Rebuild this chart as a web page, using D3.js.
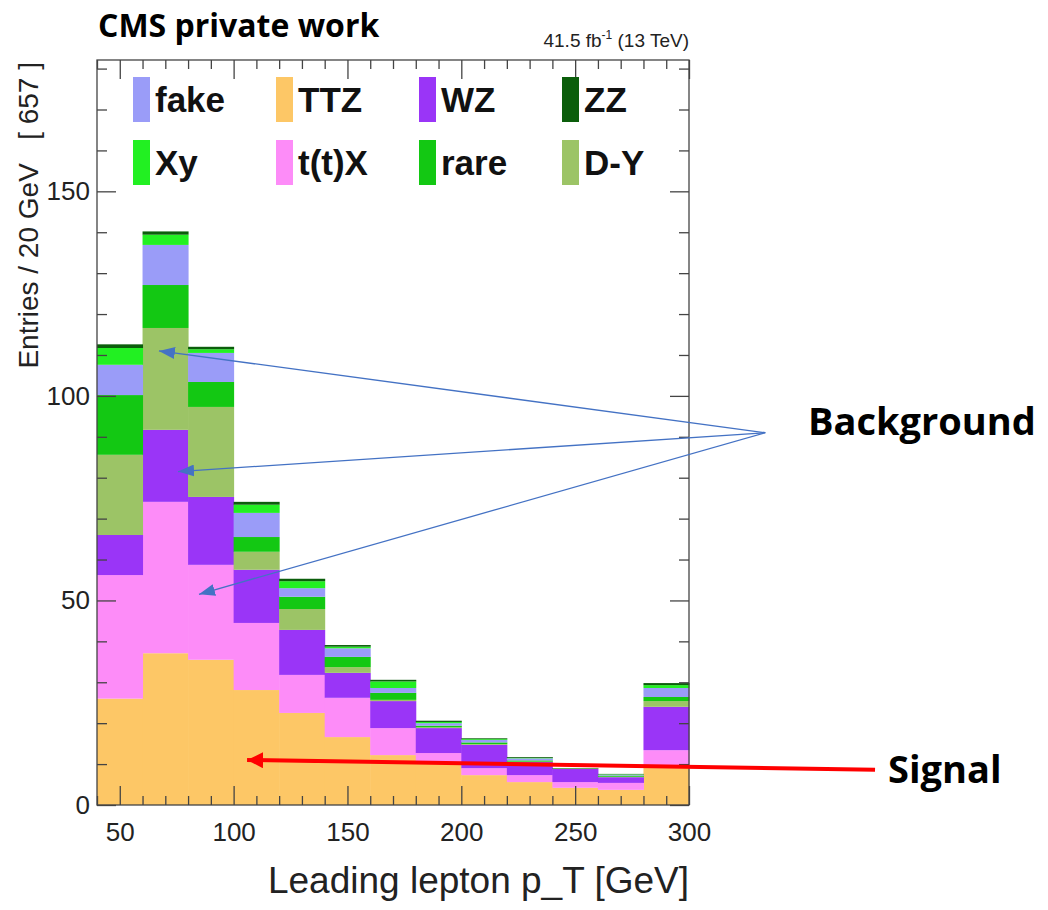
<!DOCTYPE html>
<html>
<head>
<meta charset="utf-8">
<script src="https://cdn.jsdelivr.net/npm/d3@7"></script>
<style>
  body { margin: 0; background: #fff; }
  text { white-space: pre; }
</style>
</head>
<body>
<div class="chart"></div>
<script>
// set the dimensions and margins of the graph
const w = 1048
const h = 910
const plot = {left: 97, right: 689, top: 60, bottom: 805}

// bin lower edges (GeV), each bin is 20 GeV wide
const binLow = [40, 60, 80, 100, 120, 140, 160, 180, 200, 220, 240, 260, 280]
const binWidth = 20

// stacked contributions per bin, bottom to top
const ttz  = [26.0, 37.1, 35.5, 28.1, 22.5, 16.6, 12.2, 10.3, 7.3, 5.6, 4.2, 3.7, 9.3]
const ttx  = [30.2, 37.0, 23.2, 16.4, 9.3, 9.6, 6.6, 2.4, 1.7, 1.7, 1.4, 1.7, 4.1]
const wz   = [9.8, 17.6, 16.6, 13.0, 11.0, 6.1, 6.6, 6.1, 5.7, 3.2, 3.2, 1.4, 10.6]
const dy   = [19.6, 24.9, 22.0, 4.4, 5.1, 1.4, 0.3, 0.2, 0.2, 0.1, 0.0, 0.1, 1.4]
const rare = [14.6, 10.5, 6.1, 3.6, 3.0, 2.5, 1.7, 0.4, 0.4, 0.3, 0.1, 0.3, 1.0]
const fake = [7.4, 9.8, 7.1, 5.9, 2.1, 2.1, 1.2, 0.6, 0.6, 0.5, 0.0, 0.2, 2.2]
const xy   = [4.1, 2.5, 0.9, 2.0, 1.7, 0.4, 1.6, 0.3, 0.2, 0.1, 0.0, 0.1, 0.7]
const zz   = [0.9, 0.8, 0.6, 0.7, 0.6, 0.4, 0.4, 0.3, 0.2, 0.2, 0.1, 0.1, 0.5]

// legend entries (row by row)
const legendKeys = ["fake", "ttz", "wz", "zz", "xy", "ttx", "rare", "dy"]
const legendNames = {fake: "fake", ttz: "TTZ", wz: "WZ", zz: "ZZ", xy: "Xy", ttx: "t(t)X", rare: "rare", dy: "D-Y"}

// axis ticks
const xMajor = [50, 100, 150, 200, 250, 300]
const yMajor = [0, 50, 100, 150]

// annotation arrows, in data units: [fromX, fromY, toX, toY]
const bgArrows = [[333.5, 91, 67.2, 111], [333.5, 91, 75.6, 81.5], [333.5, 91, 84.8, 51.5]]
const sigArrow = [381.7, 8.6, 105.9, 11]

const colors = {
  ttz: "#fdc766", ttx: "#fd8cf8", wz: "#9a35f7", dy: "#9cc466",
  rare: "#13c813", fake: "#9a9cf8", xy: "#22f022", zz: "#0b5e0b"
}
const stackKeys = ["ttz", "ttx", "wz", "dy", "rare", "fake", "xy", "zz"]

const table = binLow.map((lo, i) => ({
  lo: lo, ttz: ttz[i], ttx: ttx[i], wz: wz[i], dy: dy[i],
  rare: rare[i], fake: fake[i], xy: xy[i], zz: zz[i]
}))

const svg = d3.select(".chart")
  .append("svg")
    .attr("width", w)
    .attr("height", h)

const x = d3.scaleLinear().domain([40, 300]).range([plot.left, plot.right])
const y = d3.scaleLinear().domain([0, 182.1]).range([plot.bottom, plot.top])

// stacked histogram
const series = d3.stack().keys(stackKeys)(table)
svg.append("g")
  .selectAll("g")
  .data(series)
  .join("g")
    .attr("fill", d => colors[d.key])
  .selectAll("rect")
  .data(d => d)
  .join("rect")
    .attr("x", d => x(d.data.lo))
    .attr("width", d => x(d.data.lo + binWidth) - x(d.data.lo) + 0.5)
    .attr("y", d => y(d[1]))
    .attr("height", d => Math.max(0, y(d[0]) - y(d[1])))

// axes with ticks pointing into the frame
const xMinor = d3.range(40, 301, 10).filter(v => v % 50 !== 0)
const yMinor = d3.range(10, 182, 10).filter(v => v % 50 !== 0)
const axisColor = "#444"

function styleAxis(g) {
  g.select(".domain").remove()
  g.selectAll("line").attr("stroke", axisColor).attr("stroke-width", 1.3)
  g.selectAll("text")
    .attr("fill", "#222")
    .style("font-family", "'Liberation Sans', Arial, sans-serif")
    .style("font-size", "26px")
}

const y0 = y(0), y1 = y(182.1), x0 = x(40), x1 = x(300)

svg.append("g").attr("transform", `translate(0,${y0})`)
  .call(d3.axisBottom(x).tickValues(xMajor).tickSize(-19).tickPadding(18))
  .call(styleAxis)
svg.append("g").attr("transform", `translate(0,${y0})`)
  .call(d3.axisBottom(x).tickValues(xMinor).tickSize(-9).tickFormat(""))
  .call(styleAxis)
svg.append("g").attr("transform", `translate(0,${y1})`)
  .call(d3.axisTop(x).tickValues(xMajor).tickSize(-19).tickFormat(""))
  .call(styleAxis)
svg.append("g").attr("transform", `translate(0,${y1})`)
  .call(d3.axisTop(x).tickValues(xMinor).tickSize(-9).tickFormat(""))
  .call(styleAxis)

svg.append("g").attr("transform", `translate(${x0},0)`)
  .call(d3.axisLeft(y).tickValues(yMajor).tickSize(-19).tickPadding(7))
  .call(styleAxis)
svg.append("g").attr("transform", `translate(${x0},0)`)
  .call(d3.axisLeft(y).tickValues(yMinor).tickSize(-10).tickFormat(""))
  .call(styleAxis)
svg.append("g").attr("transform", `translate(${x1},0)`)
  .call(d3.axisRight(y).tickValues(yMajor).tickSize(-19).tickFormat(""))
  .call(styleAxis)
svg.append("g").attr("transform", `translate(${x1},0)`)
  .call(d3.axisRight(y).tickValues(yMinor).tickSize(-10).tickFormat(""))
  .call(styleAxis)

// frame
svg.append("rect")
  .attr("x", x0).attr("y", y1)
  .attr("width", x1 - x0).attr("height", y0 - y1)
  .attr("fill", "none")
  .attr("stroke", axisColor)
  .attr("stroke-width", 1.3)

// axis titles
svg.append("text")
  .attr("x", x1).attr("y", 893)
  .attr("text-anchor", "end")
  .style("font-family", "'Liberation Sans', Arial, sans-serif")
  .style("font-size", "37px")
  .attr("fill", "#222")
  .text("Leading lepton p_T [GeV]")

svg.append("text")
  .attr("transform", `translate(38,${y1 + 2}) rotate(-90)`)
  .attr("text-anchor", "end")
  .style("font-family", "'Liberation Sans', Arial, sans-serif")
  .style("font-size", "28px")
  .attr("fill", "#222")
  .text("Entries / 20 GeV   [ 657 ]")

// luminosity label
const lumi = svg.append("text")
  .attr("x", x1).attr("y", 47)
  .attr("text-anchor", "end")
  .style("font-family", "'Liberation Sans', Arial, sans-serif")
  .style("font-size", "19px")
  .attr("fill", "#222")
lumi.append("tspan").text("41.5 fb")
lumi.append("tspan").attr("dy", -8).style("font-size", "12px").text("-1")
lumi.append("tspan").attr("dy", 8).text(" (13 TeV)")

// title
svg.append("text")
  .attr("x", 98).attr("y", 37)
  .style("font-family", "'Open Sans', sans-serif")
  .style("font-weight", "bold")
  .style("font-size", "32px")
  .attr("fill", "#000")
  .text("CMS private work")

// legend
const legend = svg.append("g")
  .selectAll("g")
  .data(legendKeys)
  .join("g")
    .attr("transform", (d, i) => `translate(${133 + (i % 4) * 143},${77 + Math.floor(i / 4) * 63})`)

legend.append("rect")
  .attr("width", 17).attr("height", 45)
  .attr("fill", d => colors[d])

legend.append("text")
  .attr("x", 22).attr("y", 35)
  .style("font-family", "'Liberation Sans', Arial, sans-serif")
  .style("font-weight", "bold")
  .style("font-size", "35px")
  .attr("fill", "#111")
  .text(d => legendNames[d])

// annotation arrows
const defs = svg.append("defs")
defs.append("marker")
  .attr("id", "blueHead")
  .attr("markerUnits", "userSpaceOnUse")
  .attr("markerWidth", 16).attr("markerHeight", 12)
  .attr("refX", 16).attr("refY", 6)
  .attr("orient", "auto")
  .append("path").attr("d", "M0,0 L16,6 L0,12 Z").attr("fill", "#4472c4")
defs.append("marker")
  .attr("id", "redHead")
  .attr("markerUnits", "userSpaceOnUse")
  .attr("markerWidth", 16).attr("markerHeight", 16)
  .attr("refX", 16).attr("refY", 8)
  .attr("orient", "auto")
  .append("path").attr("d", "M0,0 L16,8 L0,16 Z").attr("fill", "#ff0000")

svg.append("g")
  .selectAll("line")
  .data(bgArrows)
  .join("line")
    .attr("x1", d => x(d[0])).attr("y1", d => y(d[1]))
    .attr("x2", d => x(d[2])).attr("y2", d => y(d[3]))
    .attr("stroke", "#4472c4")
    .attr("stroke-width", 1.3)
    .attr("marker-end", "url(#blueHead)")

svg.append("line")
  .attr("x1", x(sigArrow[0])).attr("y1", y(sigArrow[1]))
  .attr("x2", x(sigArrow[2])).attr("y2", y(sigArrow[3]))
  .attr("stroke", "#ff0000")
  .attr("stroke-width", 4)
  .attr("marker-end", "url(#redHead)")

svg.append("text")
  .attr("x", 808).attr("y", 435)
  .style("font-family", "'Open Sans', sans-serif")
  .style("font-weight", "bold")
  .style("font-size", "38px")
  .attr("fill", "#000")
  .text("Background")

svg.append("text")
  .attr("x", 888).attr("y", 783)
  .style("font-family", "'Open Sans', sans-serif")
  .style("font-weight", "bold")
  .style("font-size", "38px")
  .attr("fill", "#000")
  .text("Signal")
</script>
</body>
</html>
